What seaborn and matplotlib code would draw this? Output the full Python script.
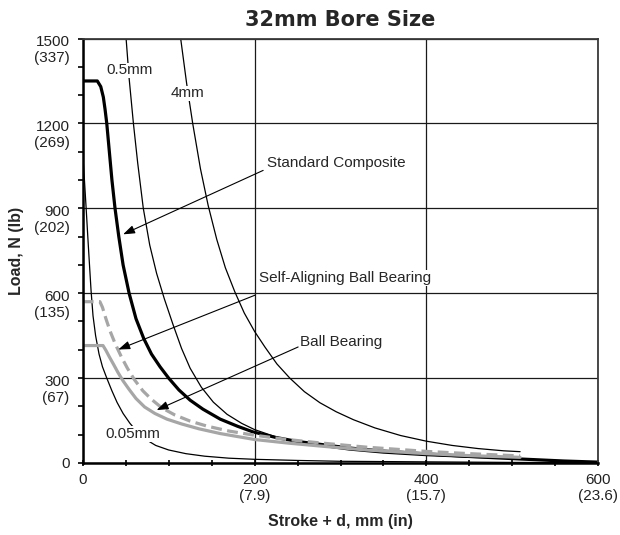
import numpy as np
import pandas as pd
import matplotlib
matplotlib.use("Agg")
import matplotlib.pyplot as plt
import matplotlib.transforms as mtransforms
from matplotlib.ticker import MultipleLocator
import seaborn as sns

# ---------------- data ----------------
title = "32mm Bore Size"
x_label = "Stroke + d, mm (in)"
y_label = "Load, N (lb)"

x_ticks = [0, 200, 400, 600]
x_tick_labels = ["0", "200\n(7.9)", "400\n(15.7)", "600\n(23.6)"]
y_ticks = [0, 300, 600, 900, 1200, 1500]
y_tick_labels = ["0", "300\n(67)", "600\n(135)", "900\n(202)", "1200\n(269)", "1500\n(337)"]

# deflection curves (thin black)
d4_x = [114, 121, 128, 137, 146, 156, 166, 177, 188, 200, 212, 226, 241, 258, 276,
        295, 315, 340, 370, 400, 430, 460, 490, 509]
d4_y = [1500, 1340, 1200, 1040, 910, 790, 690, 605, 530, 465, 410, 350, 300, 252, 213,
        181, 153, 124, 97, 77, 62, 51, 43, 40]

d05_x = [50.5, 54, 59, 64, 70.5, 78, 86, 95, 105, 115, 125, 138, 152, 168, 185, 200,
         225, 250, 276, 310, 350, 400, 450, 509]
d05_y = [1500, 1360, 1200, 1060, 900, 770, 670, 580, 490, 405, 335, 268, 215, 172, 140, 118,
         92, 74, 60, 46, 35, 26, 20, 16]

d005_x = [0.3, 2, 4, 6.5, 9.7, 12, 15, 19, 23, 28, 34, 40, 47, 55, 64, 73, 85, 100,
          120, 142, 170, 200, 250, 300, 400, 500, 600]
d005_y = [1080, 1000, 900, 770, 610, 520, 450, 385, 340, 300, 255, 214, 175, 140, 108, 84, 62, 46,
          33, 24, 17, 13, 9, 6, 4, 2, 1]

# bearing curves
std_x = [0, 17, 21, 24, 26, 28, 31, 34, 37.6, 42, 47, 54, 62, 71, 80, 90, 100, 112, 125,
         140, 160, 180, 198, 225, 250, 276, 310, 350, 400, 450, 510, 560, 600]
std_y = [1350, 1350, 1330, 1293, 1250, 1200, 1100, 1000, 900, 800, 700, 600, 510, 440, 385, 340, 300, 258, 222,
         190, 155, 130, 110, 90, 76, 66, 53, 42, 32, 23, 14, 7, 3]

sab_x = [0, 20, 23, 27, 32, 38, 45, 52, 60, 70, 80, 92, 107, 125, 145, 170, 198, 235,
         276, 330, 400, 450, 509]
sab_y = [570, 570, 550, 510, 465, 420, 375, 335, 295, 255, 225, 195, 170, 148, 130, 113, 99, 84,
         71, 56, 41, 33, 25]

bb_x = [0, 23.6, 27, 31, 36, 41, 47, 54, 62, 72, 84, 98, 115, 135, 160, 200, 240, 276,
        330, 400, 450, 509]
bb_y = [415, 415, 398, 375, 348, 320, 290, 260, 228, 198, 175, 155, 138, 121, 104, 83, 70, 60,
        46, 33, 26, 20]

# ---------------- style ----------------
sns.set_style("white")
plt.rcParams["font.family"] = ["Liberation Sans", "DejaVu Sans"]

fig, ax = plt.subplots(figsize=(6.2, 5.35), dpi=100)
fig.subplots_adjust(left=0.1334, right=0.965, bottom=0.1346, top=0.928)

ax.set_xlim(0, 600)
ax.set_ylim(0, 1500)

# grid
ax.set_xticks(x_ticks)
ax.set_yticks(y_ticks)
ax.grid(True, which="major", color="#1a1a1a", linewidth=0.9)
ax.set_axisbelow(True)

# curves
thin = dict(color="black", linewidth=0.9)
sns.lineplot(x=d4_x, y=d4_y, sort=False, estimator=None, ax=ax, **thin)
sns.lineplot(x=d05_x, y=d05_y, sort=False, estimator=None, ax=ax, **thin)
sns.lineplot(x=d005_x, y=d005_y, sort=False, estimator=None, ax=ax, **thin)
sns.lineplot(x=std_x, y=std_y, sort=False, estimator=None, ax=ax,
             color="black", linewidth=2.3, solid_joinstyle="round")
sns.lineplot(x=bb_x, y=bb_y, sort=False, estimator=None, ax=ax,
             color="#a6a6a6", linewidth=2.3, solid_joinstyle="round")
sns.lineplot(x=sab_x, y=sab_y, sort=False, estimator=None, ax=ax,
             color="#a6a6a6", linewidth=2.3, linestyle=(0, (3.4, 1.7)))

# spines
for side in ["left", "bottom"]:
    ax.spines[side].set_color("black")
    ax.spines[side].set_linewidth(1.8)
for side in ["top", "right"]:
    ax.spines[side].set_color("#3a3a3a")
    ax.spines[side].set_linewidth(1.3)
    ax.spines[side].set_visible(True)

# ticks
ax.xaxis.set_minor_locator(MultipleLocator(50))
ax.yaxis.set_minor_locator(MultipleLocator(100))
ax.tick_params(axis="x", which="both", direction="inout", length=4.5, width=1.2,
               color="black", bottom=True, top=False, pad=5)
ax.tick_params(axis="y", which="both", direction="out", length=3.5, width=1.2,
               color="black", left=True, right=False, pad=6)
ax.set_xticklabels(x_tick_labels, fontsize=11, color="#222222")
ax.set_yticklabels(y_tick_labels, fontsize=11, color="#222222")

shift = mtransforms.ScaledTranslation(0, -0.092, fig.dpi_scale_trans)
for tick in ax.yaxis.get_major_ticks():
    lab = tick.label1
    if "\n" in lab.get_text():
        lab.set_transform(lab.get_transform() + shift)

ax.set_xlabel(x_label, fontsize=11.5, fontweight="bold", labelpad=8)
ax.set_ylabel(y_label, fontsize=11.5, fontweight="bold", labelpad=7)
ax.set_title(title, fontsize=15, fontweight="heavy", family="DejaVu Sans", pad=9)

# labels and arrows
box = dict(facecolor="white", edgecolor="none", pad=0.5)
ax.text(55, 1387, "0.5mm", fontsize=11, ha="center", va="center", bbox=box)
ax.text(122, 1306, "4mm", fontsize=11, ha="center", va="center", bbox=box)
ax.text(58, 102, "0.05mm", fontsize=11, ha="center", va="center", bbox=box)

arrow = dict(arrowstyle="-|>,head_length=0.7,head_width=0.25", color="black",
             lw=0.8, shrinkA=0, shrinkB=0)
ax.text(214.5, 1059, "Standard Composite", fontsize=11, ha="left", va="center", bbox=box)
ax.annotate("", xy=(47, 808), xytext=(210, 1034), arrowprops=arrow)
ax.text(205, 653, "Self-Aligning Ball Bearing", fontsize=11, ha="left", va="center", bbox=box)
ax.annotate("", xy=(41.4, 401), xytext=(200.5, 593), arrowprops=arrow)
ax.text(252.8, 428, "Ball Bearing", fontsize=11, ha="left", va="center", bbox=box)
ax.annotate("", xy=(86, 187), xytext=(250.7, 410), arrowprops=arrow)

fig.savefig("out.png", dpi=100)
